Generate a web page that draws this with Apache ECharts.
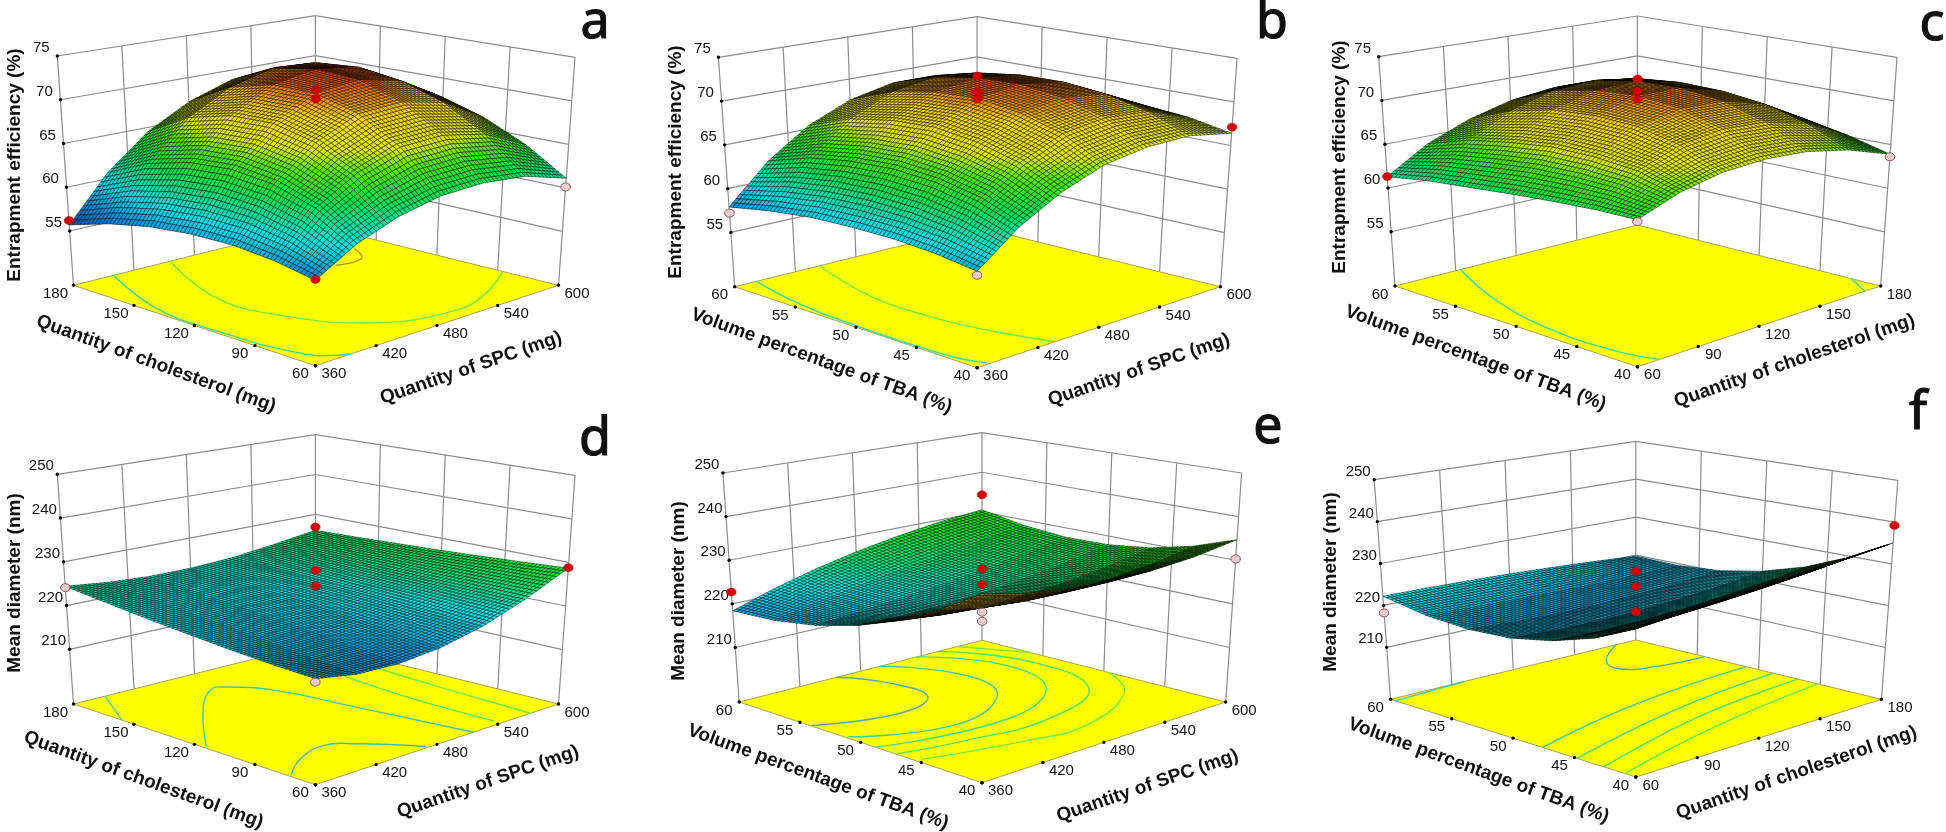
<!DOCTYPE html>
<html>
<head>
<meta charset="utf-8">
<style>html,body{margin:0;background:#fff}#chart{width:1946px;height:832px}</style>
<script src="https://cdn.jsdelivr.net/npm/echarts@6/dist/echarts.min.js"></script>
</head>
<body>
<div id="chart"></div>
<script>
// axis tick labels
const spcTicks = [360, 420, 480, 540, 600]
const cholTicks = [60, 90, 120, 150, 180]
const tbaTicks = [40, 45, 50, 55, 60]
const eeTicks = [55, 60, 65, 70, 75]
const sizeTicks = [210, 220, 230, 240, 250]

// surface heights, rows run along the right floor axis, columns along the left one
const surfaceA = [
  [57.6, 58.4, 58.8, 58.7, 58.2, 57.2, 55.7],
  [60.2, 62.8, 64.2, 64.7, 64.3, 63.0, 60.7],
  [61.9, 65.5, 67.7, 68.8, 68.6, 67.3, 64.5],
  [62.9, 67.2, 69.9, 71.2, 71.2, 69.9, 67.1],
  [63.1, 67.4, 70.2, 71.8, 72.1, 71.2, 68.8],
  [62.6, 66.4, 69.1, 70.7, 71.4, 71.0, 69.4],
  [61.1, 64.0, 66.2, 67.7, 68.7, 69.1, 68.8]
]
const surfaceB = [
  [58.7, 59.3, 59.6, 59.6, 59.4, 58.8, 57.9],
  [62.1, 63.7, 64.6, 64.9, 64.6, 63.8, 62.2],
  [64.6, 66.7, 67.9, 68.5, 68.2, 67.3, 65.4],
  [66.4, 68.8, 70.1, 70.8, 70.5, 69.5, 67.5],
  [67.2, 69.5, 70.8, 71.4, 71.2, 70.3, 68.6],
  [67.3, 69.1, 70.2, 70.7, 70.6, 69.9, 68.6],
  [66.4, 67.3, 67.7, 68.1, 68.1, 68.0, 67.5]
]
const surfaceC = [
  [63.9, 63.8, 63.5, 63.1, 62.6, 62.1, 61.3],
  [65.6, 66.8, 67.2, 67.2, 66.6, 65.7, 64.1],
  [66.6, 68.5, 69.5, 69.7, 69.3, 68.1, 66.0],
  [66.9, 69.2, 70.5, 71.0, 70.6, 69.5, 67.3],
  [66.6, 68.9, 70.3, 70.9, 70.7, 69.8, 67.9],
  [65.6, 67.6, 68.9, 69.5, 69.6, 69.1, 67.9],
  [63.9, 65.1, 66.0, 66.6, 67.0, 67.2, 67.0]
]
const surfaceD = [
  [219.4, 219.8, 220.4, 221.2, 222.1, 223.2, 224.4],
  [217.9, 218.7, 219.6, 220.5, 221.4, 222.4, 223.4],
  [217.6, 218.6, 219.5, 220.4, 221.2, 222.0, 222.8],
  [218.5, 219.4, 220.2, 221.0, 221.7, 222.3, 222.8],
  [220.6, 221.2, 221.8, 222.3, 222.7, 223.1, 223.3],
  [224.1, 224.2, 224.3, 224.4, 224.5, 224.5, 224.5],
  [228.7, 228.1, 227.6, 227.1, 226.7, 226.3, 226.0]
]
const surfaceE = [
  [236.5, 231.0, 226.4, 222.9, 220.4, 218.9, 218.4],
  [234.4, 229.3, 225.4, 222.7, 221.1, 220.7, 221.4],
  [233.1, 228.4, 225.0, 222.9, 222.0, 222.4, 224.0],
  [232.4, 228.1, 225.2, 223.5, 223.1, 224.0, 226.2],
  [232.5, 228.6, 225.9, 224.5, 224.4, 225.6, 228.0],
  [233.2, 229.6, 227.2, 226.0, 226.0, 227.1, 229.5],
  [234.7, 231.4, 229.1, 227.9, 227.7, 228.6, 230.5]
]
const surfaceF = [
  [229.0, 224.8, 221.9, 220.1, 219.6, 220.3, 222.2],
  [229.9, 225.0, 221.5, 219.5, 218.9, 219.8, 222.1],
  [230.9, 225.5, 221.6, 219.3, 218.6, 219.5, 221.9],
  [231.9, 226.2, 222.0, 219.5, 218.6, 219.3, 221.6],
  [232.9, 227.1, 222.8, 220.1, 218.9, 219.2, 221.1],
  [233.9, 228.2, 223.9, 221.0, 219.5, 219.3, 220.5],
  [235.0, 229.7, 225.4, 222.3, 220.3, 219.5, 219.7]
]

// measured design points: left axis fraction, right axis fraction, response, 1 = above the surface
const pointsA = [[0, 0, 57.7, 1], [1, 0, 56.2, 1], [0, 1, 60.1, 0], [.5, .5, 71.6, 1], [.5, .5, 70.6, 1]]
const pointsB = [[0, 0, 58.3, 0], [1, 0, 57.2, 0], [0, 1, 67.1, 1], [.5, .5, 73.3, 1], [.5, .5, 71.5, 1], [.5, .5, 70.7, 1]]
const pointsC = [[0, 0, 63.7, 0], [1, 0, 61.3, 1], [0, 1, 63.6, 0], [.5, .5, 72.9, 1], [.5, .5, 71.5, 1], [.5, .5, 70.6, 1]]
const pointsD = [[0, 0, 218.7, 0], [1, 0, 224.1, 0], [0, 1, 228.8, 1], [1, 1, 226.8, 1], [.5, .5, 229.1, 1], [.5, .5, 225.5, 1]]
const pointsE = [[1, 0, 222.7, 1], [0, 1, 230.3, 0], [1, 1, 234.3, 1], [.5, .5, 229, 1], [.5, .5, 225.4, 1], [.5, .5, 219.1, 0], [.5, .5, 217, 0]]
const pointsF = [[1, 0, 218.2, 0], [0, 1, 239.2, 1], [.5, .5, 229, 1], [.5, .5, 225.4, 1], [.5, .5, 219.4, 1]]

// contour lines on the floor, as axis fractions
const contoursA = [
  [[1, .4], [.66, .24], [.41, .25], [.15, .4], [.06, .64], [.11, .81], [.23, 1]],
  [[1, .165], [.8, .07], [.62, .015], [.5, .01], [.36, .015], [.24, .02], [.12, .045], [.055, .07], [0, .145]],
  [[.64, .725], [.64, .83], [.73, .89]]
]
const contoursB = [
  [[1, .35], [.69, .245], [.44, .23], [.22, .26], [0, .32]],
  [[1, .09], [.76, .03], [.49, .01], [.23, .01], [.1, .02], [.01, .05]]
]
const contoursC = [
  [[1, .27], [.7, .126], [.41, .055], [.156, .052], [0, .09]],
  [[.12, 1], [0, .935]]
]
const contoursD = [
  [[1, .13], [.8, 0]],
  [[.46, .01], [.7, .235], [.846, .41], [.84, .47], [.713, .553], [.43, .596], [0, .65]],
  [[.11, .01], [.195, .133], [.234, .27], [.178, .344], [.01, .465]],
  [[.68, .8], [.358, .768], [.03, .765]],
  [[.683, .93], [.416, .907], [0, .885]]
]
const contoursE = [
  [[1, .4], [.842, .477], [.678, .455], [.62, .275], [.706, .005]],
  [[1, .58], [.758, .694], [.55, .612], [.43, .333], [.56, .01]],
  [[1, .73], [.749, .853], [.494, .757], [.3625, .4665], [.44, 0]],
  [[1, .82], [.72, .93], [.402, .841], [.277, .548], [.303, .239], [.355, .005]],
  [[.48, 1], [.3, .885], [.156, .595], [.1755, .3635], [.27, .02]],
  [[1, .9], [.8, 1]]
]
const contoursF = [
  [[1, .92], [.889, .768], [.796, .733], [.739, .842], [.72, 1]],
  [[.98, 0], [1, .3]],
  [[.38, 0], [.496, .483], [.55, 1]],
  [[.24, 0], [.375, .53], [.44, 1]],
  [[.13, 0], [.276, .528], [.34, 1]],
  [[.045, 0], [.1715, .4905], [.26, 1]]
]

const eeColors = [[55, '#0038a8'], [58, '#0090e0'], [60, '#00e0e8'], [63, '#00e050'], [65.5, '#50e800'], [67, '#d8e800'], [69.5, '#ffd800'], [71, '#ff8000'], [72.5, '#ff2800']]
const sizeColors = [[216, '#0060e0'], [219, '#00b8f0'], [222, '#00f0f0'], [225, '#00f080'], [229, '#10f020'], [234, '#60f000'], [238, '#b8f000'], [242, '#f8f800']]

const titleEE = 'Entrapment efficiency (%)'
const titleSize = 'Mean diameter (nm)'
const titleChol = 'Quantity of cholesterol (mg)'
const titleSPC = 'Quantity of SPC (mg)'
const titleTBA = 'Volume percentage of TBA (%)'

// corner positions of every plot box on the page
const panels = [
  { letter: 'a', letterAt: [595, 23], F: [315.4, 365.7], L: [73.5, 285.3], R: [558.5, 285.3], B: [315.4, 225], FT: [315.4, 111.7], LT: [57.3, 56], RT: [575, 57.3], BT: [315.4, 15.7],
    zMin: 48.8, zMax: 75, zTicks: eeTicks, uTicks: cholTicks, vTicks: spcTicks, colors: eeColors, surface: surfaceA, points: pointsA, contours: contoursA,
    tones: ['#70e850', '#38d8a0', '#b09040'],
    zTitle: titleEE, zAt: [15, 165], uTitle: titleChol, uAt: [156, 364], vTitle: titleSPC, vAt: [471, 368] },
  { letter: 'b', letterAt: [1272, 23], F: [977.1, 367.7], L: [734.7, 286.7], R: [1220.4, 286.7], B: [977.1, 227], FT: [977.1, 112.7], LT: [718.4, 57.3], RT: [1237.1, 58.3], BT: [977.1, 16.7],
    zMin: 48.8, zMax: 75, zTicks: eeTicks, uTicks: tbaTicks, vTicks: spcTicks, colors: eeColors, surface: surfaceB, points: pointsB, contours: contoursB,
    tones: ['#70e850', '#30d8c0'],
    zTitle: titleEE, zAt: [676, 162], uTitle: titleTBA, uAt: [821.5, 361], vTitle: titleSPC, vAt: [1139, 370] },
  { letter: 'c', letterAt: [1932, 25], F: [1637.4, 366.7], L: [1395, 286], R: [1880.7, 286], B: [1637.4, 225], FT: [1637.4, 111.7], LT: [1378.7, 56.7], RT: [1897, 57.3], BT: [1637.4, 16],
    zMin: 48.8, zMax: 75, zTicks: eeTicks, uTicks: tbaTicks, vTicks: cholTicks, colors: eeColors, surface: surfaceC, points: pointsC, contours: contoursC,
    tones: ['#30d8c0', '#30d8c0'],
    zTitle: titleEE, zAt: [1339.5, 157], uTitle: titleTBA, uAt: [1475.5, 358], vTitle: titleChol, vAt: [1794.5, 361] },
  { letter: 'd', letterAt: [595, 440], F: [315.4, 784.7], L: [73.5, 704], R: [558.5, 704], B: [315.4, 643.7], FT: [315.4, 530.7], LT: [57.3, 474.3], RT: [575, 475.3], BT: [315.4, 434.7],
    zMin: 197.5, zMax: 250, zTicks: sizeTicks, uTicks: cholTicks, vTicks: spcTicks, colors: sizeColors, surface: surfaceD, points: pointsD, contours: contoursD,
    tones: ['#50d0a0', '#40c8b0', '#40b8c0', '#60e060', '#70e850'],
    zTitle: titleSize, zAt: [15, 583], uTitle: titleChol, uAt: [143.5, 780], vTitle: titleSPC, vAt: [488, 782] },
  { letter: 'e', letterAt: [1268, 428], F: [982, 782.7], L: [739.2, 702], R: [1225.7, 702], B: [982, 640.3], FT: [982, 528.7], LT: [722.9, 473], RT: [1241.6, 473], BT: [982, 432.7],
    zMin: 197.5, zMax: 250, zTicks: sizeTicks, uTicks: tbaTicks, vTicks: spcTicks, colors: sizeColors, surface: surfaceE, points: pointsE, contours: contoursE,
    tones: ['#50a8c0', '#40c8b0', '#40d890', '#50e070', '#70e850', '#70e850'],
    zTitle: titleSize, zAt: [679, 591], uTitle: titleTBA, uAt: [818, 777], vTitle: titleSPC, vAt: [1147.5, 786] },
  { letter: 'f', letterAt: [1918, 414], F: [1635.8, 777], L: [1390.5, 699.3], R: [1881.5, 699.3], B: [1635.8, 640], FT: [1635.8, 530], LT: [1374.2, 479.7], RT: [1897.8, 480.3], BT: [1635.8, 441.3],
    zMin: 197.6, zMax: 250, zTicks: sizeTicks, uTicks: tbaTicks, vTicks: cholTicks, colors: sizeColors, surface: surfaceF, points: pointsF, contours: contoursF,
    tones: ['#50a8c0', '#40c8b0', '#40c8b0', '#40d890', '#50e070', '#60e860'],
    zTitle: titleSize, zAt: [1330.5, 582], uTitle: titleTBA, uAt: [1478.5, 770.5], vTitle: titleChol, vAt: [1796.5, 773] }
]

const FONT = '"Liberation Sans", Arial, sans-serif'
const WALL = '#8c8c8c'
const MESH = 11

const bilinear = (a, b, c, d, u, v) => [0, 1].map(k =>
  a[k] * (1 - u) * (1 - v) + b[k] * u * (1 - v) + c[k] * (1 - u) * v + d[k] * u * v)

// plot coordinates -> page position
const project = (p, u, v, z) => {
  const low = bilinear(p.F, p.L, p.R, p.B, u, v)
  const high = bilinear(p.FT, p.LT, p.RT, p.BT, u, v)
  const w = (z - p.zMin) / (p.zMax - p.zMin)
  return [low[0] + (high[0] - low[0]) * w, low[1] + (high[1] - low[1]) * w]
}

const hex = c => [1, 3, 5].map(i => parseInt(c.slice(i, i + 2), 16))
const colorAt = (stops, z) => {
  if (z <= stops[0][0]) return stops[0][1]
  for (let i = 1; i < stops.length; i++) {
    if (z <= stops[i][0]) {
      const t = (z - stops[i - 1][0]) / (stops[i][0] - stops[i - 1][0])
      const a = hex(stops[i - 1][1])
      const b = hex(stops[i][1])
      return 'rgb(' + a.map((x, k) => Math.round(x + (b[k] - x) * t)).join(',') + ')'
    }
  }
  return stops[stops.length - 1][1]
}

const line = (pts, color, width) => ({
  type: 'polyline', shape: { points: pts }, style: { stroke: color, lineWidth: width, fill: null }
})
const label = (text, at, size, weight, rotation, family) => ({
  type: 'text', x: at[0], y: at[1], rotation: rotation || 0,
  style: { text: String(text), fill: '#111', fontSize: size, fontWeight: weight || 'normal', fontFamily: family || FONT, align: 'center', verticalAlign: 'middle' }
})
const dot = at => ({ type: 'circle', shape: { cx: at[0], cy: at[1], r: 1.7 }, style: { fill: '#000' } })

// walls, floor, contours, ticks and texts of one plot
const frameItem = p => (params, api) => {
  const c = pt => api.coord(pt)
  const at = (u, v, z) => c(project(p, u, v, z))
  const kids = []
  p.zTicks.forEach(z => {
    kids.push(line([at(1, 0, z), at(1, 1, z), at(0, 1, z)], WALL, 1.2))
  })
  ;[.25, .5, .75].forEach(t => {
    kids.push(line([at(1, t, p.zMin), at(1, t, p.zMax)], WALL, 1.2))
    kids.push(line([at(t, 1, p.zMin), at(t, 1, p.zMax)], WALL, 1.2))
  })
  kids.push(line([at(1, 0, p.zMin), at(1, 0, p.zMax)], WALL, 1.2))
  kids.push(line([at(0, 1, p.zMin), at(0, 1, p.zMax)], WALL, 1.2))
  kids.push(line([at(1, 1, p.zMin), at(1, 1, p.zMax)], WALL, 1.2))

  kids.push({
    type: 'polygon',
    shape: { points: [at(0, 0, p.zMin), at(1, 0, p.zMin), at(1, 1, p.zMin), at(0, 1, p.zMin)] },
    style: { fill: '#ffff00', stroke: '#a8a060', lineWidth: 1 }
  })
  p.contours.forEach((cl, i) => {
    kids.push({
      type: 'polyline',
      shape: { points: cl.map(q => at(q[0], q[1], p.zMin)), smooth: .45 },
      style: { stroke: p.tones[i], lineWidth: 1.4, fill: null }
    })
  })

  p.zTicks.forEach(z => {
    const t = at(1, 0, z)
    kids.push(dot(t))
    kids.push(label(z, [t[0] - 16, t[1] - 8], 15))
  })
  p.uTicks.forEach((val, i) => {
    const t = at(i / 4, 0, p.zMin)
    kids.push(dot(t))
    kids.push(label(val, [t[0] - (val < 100 ? 15 : 18), t[1] + 8.5], 15))
  })
  p.vTicks.forEach((val, i) => {
    const t = at(0, i / 4, p.zMin)
    kids.push(dot(t))
    kids.push(label(val, [t[0] + (val < 100 ? 15 : 18.5), t[1] + 8.5], 15))
  })
  kids.push(label(p.zTitle, c(p.zAt), 19, 'bold', Math.PI / 2))
  kids.push(label(p.uTitle, c(p.uAt), 19, 'bold', -20 * Math.PI / 180))
  kids.push(label(p.vTitle, c(p.vAt), 19, 'bold', 19 * Math.PI / 180))
  const big = label(p.letter, c(p.letterAt), 52, 'normal', 0, '"Noto Sans", sans-serif')
  big.style.stroke = '#111'
  big.style.lineWidth = 1.2
  kids.push(big)
  return { type: 'group', children: kids }
}

// one surface cell: a flat facet split into small mesh squares, only the shade varies inside it
const cellItem = p => (params, api) => {
  const i = api.value(0)
  const j = api.value(1)
  const n = p.surface.length - 1
  const corner = (a, b) => api.coord(project(p, a / n, b / n, p.surface[b][a]))
  const q = [corner(i, j), corner(i + 1, j), corner(i + 1, j + 1), corner(i, j + 1)]
  const zs = [p.surface[j][i], p.surface[j][i + 1], p.surface[j + 1][i + 1], p.surface[j + 1][i]]

  let area = 0
  q.forEach((a, k) => {
    const b = q[(k + 1) % 4]
    area += a[0] * b[1] - b[0] * a[1]
  })
  const meshAt = (s, t) => bilinear(q[0], q[1], q[3], q[2], s, t)
  const shadeAt = (s, t) => zs[0] * (1 - s) * (1 - t) + zs[1] * s * (1 - t) + zs[3] * (1 - s) * t + zs[2] * s * t

  const kids = []
  for (let b = MESH - 1; b >= 0; b--) {
    for (let a = MESH - 1; a >= 0; a--) {
      const s = a / MESH
      const t = b / MESH
      const d = 1 / MESH
      kids.push({
        type: 'polygon',
        shape: { points: [meshAt(s, t), meshAt(s + d, t), meshAt(s + d, t + d), meshAt(s, t + d)] },
        style: { fill: area < 0 ? '#e0b000' : colorAt(p.colors, shadeAt(s + d / 2, t + d / 2)), stroke: 'rgba(0,0,0,0.5)', lineWidth: .9 }
      })
    }
  }
  return { type: 'group', children: kids }
}

const pointItem = p => (params, api) => {
  const m = p.points[api.value(0)]
  const at = api.coord(project(p, m[0], m[1], m[2]))
  return {
    type: 'ellipse',
    shape: { cx: at[0], cy: at[1], rx: 4.8, ry: 4 },
    style: m[3] ? { fill: '#d40000', stroke: '#b00000', lineWidth: .5 } : { fill: '#e8cccc', stroke: '#8a5a5a', lineWidth: 1 }
  }
}

const series = []
panels.forEach(p => {
  const n = p.surface.length - 1
  const cells = []
  for (let i = n - 1; i >= 0; i--) {
    for (let j = n - 1; j >= 0; j--) cells.push([i, j])
  }
  // paint from the far corner to the near one
  cells.sort((a, b) => (b[0] + b[1]) - (a[0] + a[1]))
  const base = { type: 'custom', coordinateSystem: 'cartesian2d', silent: true, clip: false, animation: false, progressive: 0 }
  series.push(Object.assign({}, base, { renderItem: frameItem(p), data: [[0, 0]], z: 1 }))
  series.push(Object.assign({}, base, { renderItem: cellItem(p), data: cells, z: 2 }))
  series.push(Object.assign({}, base, { renderItem: pointItem(p), data: p.points.map((_, i) => [i]), z: 3 }))
})

const chart = echarts.init(document.getElementById('chart'), null, { renderer: 'canvas' })
chart.setOption({
  animation: false,
  backgroundColor: '#fff',
  grid: { left: 0, right: 0, top: 0, bottom: 0 },
  xAxis: { type: 'value', min: 0, max: 1946, show: false },
  yAxis: { type: 'value', min: 0, max: 832, inverse: true, show: false },
  series
})
</script>
</body>
</html>
